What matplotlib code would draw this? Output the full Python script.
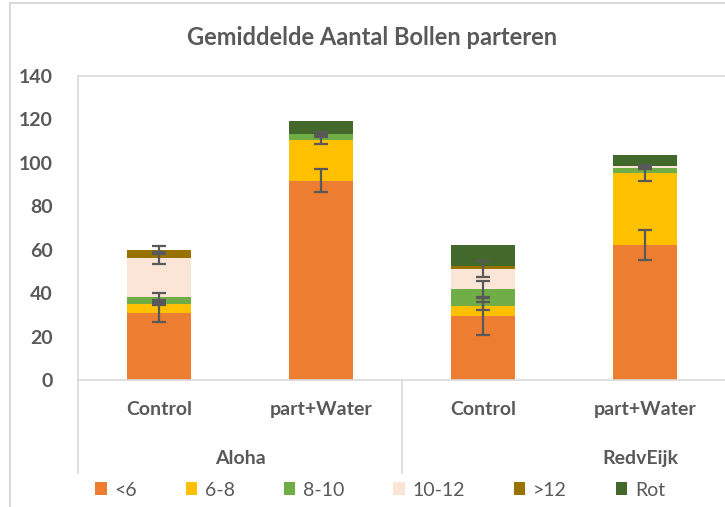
import numpy as np
import matplotlib
matplotlib.use("Agg")
import matplotlib.pyplot as plt
from matplotlib.patches import Rectangle
from matplotlib.lines import Line2D

plt.rcParams['font.family'] = ['Lato', 'DejaVu Sans']

# data
bars = ["Control", "part+Water", "Control", "part+Water"]
groups = ["Aloha", "RedvEijk"]
series = ["<6", "6-8", "8-10", "10-12", ">12", "Rot"]
colors = ["#ED7D31", "#FFC000", "#70AD47", "#FBE5D6", "#997300", "#43682B"]

lt6 = [31.0, 91.8, 29.5, 62.2]
s6_8 = [4.1, 18.6, 4.6, 33.0]
s8_10 = [3.3, 3.1, 7.7, 2.3]
s10_12 = [17.8, 0.0, 9.3, 1.1]
gt12 = [3.8, 0.0, 1.4, 0.0]
rot = [0.0, 5.9, 9.7, 5.0]

# error (+/-) per segment, drawn at the top of each segment
err_lt6 = [4.4, 5.4, 8.8, 6.8]
err_6_8 = [0.6, 1.7, 2.0, 3.4]
err_8_10 = [1.7, 0.6, 4.0, 0.5]
err_10_12 = [2.8, 0.0, 3.8, 0.5]
err_gt12 = [1.9, 0.0, 0.0, 0.0]
err_rot = [0.0, 0.0, 0.0, 0.0]

values = [lt6, s6_8, s8_10, s10_12, gt12, rot]
errors = [err_lt6, err_6_8, err_8_10, err_10_12, err_gt12, err_rot]

grey = "#595959"
line_col = "#D9D9D9"

fig = plt.figure(figsize=(7.25, 5.07), dpi=100)
ax = fig.add_axes([78 / 725, 1 - 380 / 507, 648 / 725, 304 / 507])

x = np.arange(len(bars))
bottom = np.zeros(len(bars))
handles = []
for name, vals, col in zip(series, values, colors):
    vals = np.array(vals)
    h = ax.bar(x, vals, width=0.4, bottom=bottom, color=col, label=name,
               edgecolor="none", zorder=2)
    handles.append(h)
    bottom = bottom + vals

bottom = np.zeros(len(bars))
for vals, errs in zip(values, errors):
    vals = np.array(vals)
    bottom = bottom + vals
    errs = np.array(errs)
    m = errs > 0
    ax.errorbar(x[m], bottom[m], yerr=errs[m], fmt="none", ecolor=grey,
                elinewidth=1.6, capsize=5, capthick=1.6, zorder=3)

ax.set_xlim(-0.5, 3.5)
ax.set_ylim(0, 140)
ax.set_yticks(range(0, 141, 20))
ax.tick_params(axis="y", length=0, pad=18, labelsize=14, labelcolor=grey)
for lab in ax.get_yticklabels():
    lab.set_fontweight("bold")
ax.set_xticks(x)
ax.set_xticklabels(bars, fontsize=14, fontweight="bold", color=grey)
ax.tick_params(axis="x", length=0, pad=15)
for s in ax.spines.values():
    s.set_color(line_col)
    s.set_linewidth(1.2)
ax.spines["right"].set_visible(False)

# group labels and separators under the axis
for gx, g in zip([0.5, 2.97], groups):
    ax.text(gx, -0.258, g, transform=ax.get_xaxis_transform(), ha="center",
            va="center", fontsize=14, fontweight="bold", color=grey)
for sx in [-0.5, 1.5]:
    ax.add_line(Line2D([sx, sx], [0, -0.305], transform=ax.get_xaxis_transform(),
                       color=line_col, lw=1.2, clip_on=False))

fig.text(372 / 725, 1 - 38 / 507, "Gemiddelde Aantal Bollen parteren",
         ha="center", va="center", fontsize=17, fontweight="bold", color=grey)

fig.legend(handles=handles, labels=series, loc="center",
           bbox_to_anchor=(380 / 725, 1 - 490 / 507), ncol=6, frameon=False,
           fontsize=14, labelcolor=grey, handlelength=0.6, handleheight=0.6,
           handletextpad=0.4, columnspacing=2.5)

fig.add_artist(Rectangle((10 / 725, -0.1), 1.2, 1.1 - 3 / 507,
                         transform=fig.transFigure, fill=False,
                         edgecolor=line_col, lw=1.5))

fig.savefig("out.png", dpi=100)
